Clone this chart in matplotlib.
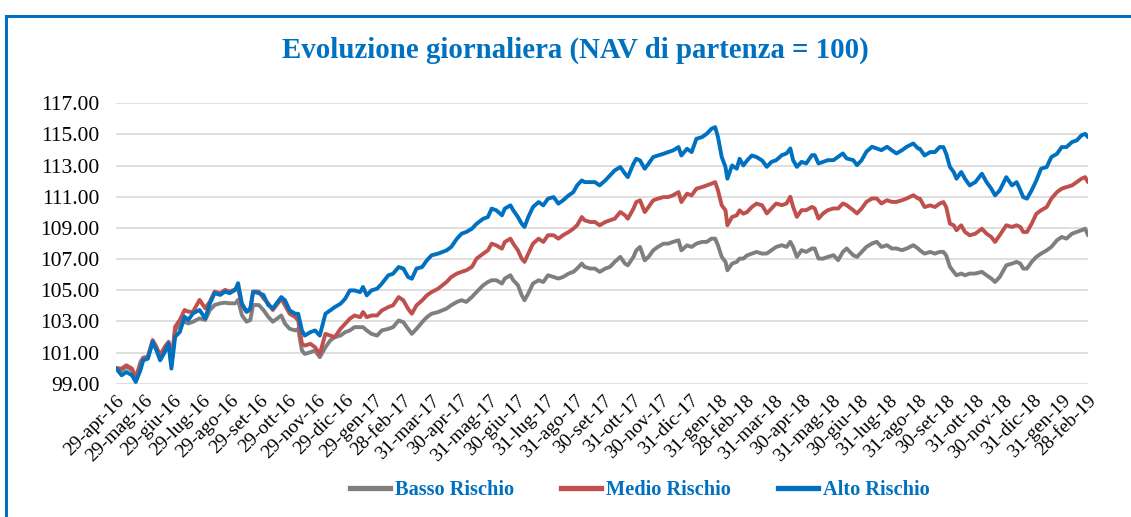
import matplotlib
matplotlib.use('Agg')
import matplotlib.pyplot as plt
import pandas as pd
from matplotlib.lines import Line2D

# ---------------- data ----------------
start_date = "2016-04-29"
# days elapsed since start_date for each sampled observation
days = [0, 6, 11, 17, 21, 26, 29, 34, 39, 43, 47, 52, 56, 59, 63, 68, 73, 77, 82, 89,
        95, 100, 105, 111, 116, 121, 127, 130, 134, 139, 143, 146, 152, 157, 162, 167,
        176, 180, 185, 191, 194, 198, 201, 207, 212, 217, 223, 228, 233, 239, 244, 249,
        254, 260, 263, 267, 272, 278, 283, 290, 295, 301, 306, 311, 315, 320, 326, 331, 336, 343,
        352, 357, 363, 368, 373, 379, 384, 391, 396, 400, 405, 411, 414, 420, 423, 428,
        432, 435, 439, 444, 450, 455, 460, 466, 471, 476, 482, 487, 491, 496, 499, 505, 510, 515,
        521, 526, 531, 537, 542, 545, 551, 554, 558, 563, 567, 572, 577, 583, 588, 593,
        599, 602, 608, 613, 618, 624, 629, 634, 638, 641, 645, 649, 651, 656, 661, 664,
        668, 672, 677, 682, 688,
        693, 698, 703, 709, 714, 718, 721, 725, 730, 735, 741, 744, 748, 753, 758, 764,
        769, 774, 778, 785, 789, 794, 799, 805, 810, 815, 821, 826, 831, 837, 842, 849, 854,
        856, 861, 867, 872, 877, 881, 884, 888, 892, 895, 900, 904, 909, 915, 922, 927,
        932, 936, 941, 948, 954, 959, 963, 966, 970, 975, 980, 985, 991, 996, 1002, 1007,
        1012, 1018, 1023, 1028, 1032, 1035]

alto = [100.0, 99.54, 99.75, 99.54, 99.11, 99.86, 100.5, 100.61, 101.69, 101.15,
        100.5, 101.04, 101.58, 99.97, 102.01, 102.33, 103.30, 103.09, 103.52, 103.73,
        103.19, 104.16, 104.81, 104.70, 104.91, 104.81, 105.02, 105.45, 104.16, 103.62,
        103.84, 104.91, 104.81, 104.70, 104.05, 103.84,
        104.56, 104.35, 103.70, 103.49, 103.49, 102.42, 102.09, 102.31, 102.42, 102.09,
        103.49, 103.70, 103.92, 104.13, 104.45, 104.99, 104.99, 104.88, 105.21, 104.67,
        104.99, 105.10, 105.42, 105.96, 106.06, 106.49, 106.39, 105.85, 105.74, 106.39,
        106.49, 106.92, 107.24, 107.35,
        107.56, 107.78, 108.31, 108.63, 108.74, 108.95, 109.27, 109.59, 109.70, 110.24,
        110.13, 109.81, 110.24, 110.45, 110.13, 109.70, 109.27, 109.06, 109.70, 110.34,
        110.66, 110.45, 110.88, 110.98, 110.56, 110.77, 111.09, 111.30, 111.73, 112.05,
        111.94, 111.94, 111.94, 111.73,
        112.05, 112.37, 112.69, 112.91, 112.48, 112.26, 113.12, 113.44, 113.33, 112.80,
        113.12, 113.55, 113.65, 113.76, 113.87, 113.97, 114.19, 113.65, 114.08, 113.87,
        114.72, 114.83, 115.04, 115.36, 115.47, 114.83, 113.55, 112.91, 112.16, 113.01,
        112.80, 113.44, 113.01, 113.33, 113.65, 113.55, 113.33,
        112.92, 113.24, 113.35, 113.67, 113.78, 114.10, 113.35, 112.92, 113.24, 113.14,
        113.67, 113.67, 113.14, 113.24, 113.35, 113.35, 113.57, 113.78, 113.46, 113.35,
        113.03, 113.35, 113.89, 114.21, 114.10, 113.99, 114.21, 113.99, 113.78, 113.99,
        114.21, 114.42, 114.10,
        114.08, 113.65, 113.87, 113.87, 114.19, 114.19, 113.76, 112.91, 112.59, 112.16,
        112.59, 112.16, 111.73, 111.94, 112.48, 111.94, 111.52, 111.09, 111.41, 112.26,
        111.73, 111.94, 111.41, 110.98, 110.88, 111.41, 112.05, 112.80, 112.91, 113.55,
        113.76, 114.19, 114.19, 114.51, 114.62, 114.94, 115.04, 114.83]

medio = [100.0, 99.97, 100.18, 99.97, 99.43, 100.18, 100.61, 100.72, 101.80, 101.37,
         100.83, 101.37, 101.69, 100.40, 102.66, 103.09, 103.73, 103.62, 103.62, 104.38,
         103.84, 104.27, 104.91, 104.81, 105.02, 104.91, 105.06, 105.13, 104.05, 103.62,
         103.73, 104.91, 104.91, 104.48, 104.16, 103.73,
         104.45, 104.03, 103.49, 103.27, 103.06, 101.56, 101.45, 101.56, 101.34, 100.91,
         102.20, 102.09, 101.99, 102.52, 102.85, 103.17, 103.38, 103.27, 103.60, 103.27,
         103.38, 103.38, 103.70, 103.92, 104.03, 104.56, 104.35, 103.81, 103.49, 104.03,
         104.35, 104.67, 104.88, 105.10,
         105.53, 105.85, 106.07, 106.18, 106.28, 106.50, 107.03, 107.35, 107.56, 107.99,
         107.88, 107.67, 108.10, 108.31, 107.99, 107.56, 107.03, 106.82, 107.35, 107.99,
         108.31, 108.10, 108.53, 108.53, 108.31, 108.53, 108.74, 108.95, 109.17, 109.70,
         109.49, 109.38, 109.38, 109.17,
         109.38, 109.49, 109.59, 110.02, 109.81, 109.59, 110.24, 110.66, 110.77, 110.02,
         110.34, 110.77, 110.88, 110.98, 110.98, 111.09, 111.30, 110.66, 111.20, 111.09,
         111.52, 111.62, 111.73, 111.84, 111.94, 111.41, 110.45, 110.13, 109.17, 109.70,
         109.81, 110.13, 109.91, 110.02, 110.34, 110.56, 110.45,
         109.93, 110.25, 110.57, 110.46, 110.57, 111.00, 110.35, 109.71, 110.14, 110.14,
         110.35, 110.25, 109.60, 109.93, 110.14, 110.25, 110.25, 110.57, 110.46, 110.14,
         109.93, 110.25, 110.67, 110.89, 110.89, 110.57, 110.78, 110.67, 110.67, 110.78,
         110.89, 111.10, 110.89,
         110.88, 110.34, 110.45, 110.34, 110.56, 110.66, 110.34, 109.27, 109.17, 108.85,
         109.17, 108.74, 108.53, 108.63, 108.95, 108.63, 108.42, 108.10, 108.53, 109.17,
         109.06, 109.17, 109.06, 108.74, 108.74, 109.27, 109.91, 110.13, 110.34, 110.88,
         111.30, 111.52, 111.62, 111.73, 111.94, 112.16, 112.26, 111.94]

basso = [100.0, 99.86, 100.08, 99.86, 99.32, 100.40, 100.68, 100.72, 101.69, 101.26,
         100.61, 101.15, 101.58, 100.18, 102.44, 102.76, 102.98, 102.87, 102.98, 103.19,
         103.09, 103.73, 104.05, 104.16, 104.20, 104.16, 104.16, 104.38, 103.41, 102.98,
         103.09, 104.05, 104.05, 103.73, 103.30, 102.98,
         103.38, 102.85, 102.52, 102.42, 102.52, 101.13, 100.91, 101.02, 101.13, 100.70,
         101.34, 101.77, 101.99, 102.09, 102.31, 102.42, 102.63, 102.63, 102.63, 102.42,
         102.20, 102.09, 102.42, 102.52, 102.63, 103.06, 102.95, 102.52, 102.20, 102.52,
         102.95, 103.27, 103.49, 103.60,
         103.82, 104.04, 104.25, 104.36, 104.25, 104.57, 104.89, 105.32, 105.53, 105.64,
         105.64, 105.43, 105.75, 105.96, 105.64, 105.32, 104.68, 104.36, 104.79, 105.43,
         105.64, 105.53, 105.96, 105.85, 105.75, 105.85, 106.07, 106.18, 106.39, 106.71,
         106.50, 106.39, 106.39, 106.18,
         106.39, 106.50, 106.82, 107.14, 106.71, 106.60, 107.14, 107.56, 107.78, 106.92,
         107.14, 107.56, 107.78, 107.99, 107.99, 108.10, 108.21, 107.56, 107.88, 107.78,
         107.99, 108.10, 108.10, 108.31, 108.31, 107.88, 107.14, 106.82, 106.28, 106.71,
         106.82, 107.03, 107.03, 107.24, 107.35, 107.46, 107.35,
         107.36, 107.57, 107.78, 107.89, 107.78, 108.11, 107.78, 107.14, 107.57, 107.46,
         107.68, 107.68, 107.03, 107.03, 107.14, 107.25, 106.93, 107.46, 107.68, 107.25,
         107.14, 107.46, 107.78, 108.00, 108.11, 107.78, 107.89, 107.68, 107.68, 107.57,
         107.68, 107.89, 107.68,
         107.56, 107.35, 107.46, 107.35, 107.46, 107.46, 107.24, 106.50, 106.18, 105.96,
         106.07, 105.96, 106.07, 106.07, 106.18, 105.96, 105.75, 105.53, 105.85, 106.60,
         106.71, 106.82, 106.71, 106.39, 106.39, 106.82, 107.14, 107.35, 107.56, 107.78,
         108.21, 108.42, 108.31, 108.63, 108.74, 108.85, 108.95, 108.53]

x_labels = ["29-apr-16", "29-mag-16", "29-giu-16", "29-lug-16", "29-ago-16", "29-set-16",
            "29-ott-16", "29-nov-16", "29-dic-16", "29-gen-17", "28-feb-17", "31-mar-17",
            "30-apr-17", "31-mag-17", "30-giu-17", "31-lug-17", "31-ago-17", "30-set-17",
            "31-ott-17", "30-nov-17", "31-dic-17", "31-gen-18", "28-feb-18", "31-mar-18",
            "30-apr-18", "31-mag-18", "30-giu-18", "31-lug-18", "31-ago-18", "30-set-18",
            "31-ott-18", "30-nov-18", "31-dic-18", "31-gen-19", "28-feb-19"]
y_ticks = [99, 101, 103, 105, 107, 109, 111, 113, 115, 117]

series_names = ["Basso Rischio", "Medio Rischio", "Alto Rischio"]
series_colors = ["#7F7F7F", "#C0504D", "#0070C0"]
title = "Evoluzione giornaliera (NAV di partenza = 100)"

# ---------------- helpers ----------------
it_months = {"gen": 1, "feb": 2, "mar": 3, "apr": 4, "mag": 5, "giu": 6,
             "lug": 7, "ago": 8, "set": 9, "ott": 10, "nov": 11, "dic": 12}


def parse_it(lbl):
    d, m, y = lbl.split("-")
    return pd.Timestamp(year=2000 + int(y), month=it_months[m], day=int(d))


tick_dates = [parse_it(l) for l in x_labels]
dates = pd.Timestamp(start_date) + pd.to_timedelta(days, unit="D")

# ---------------- figure ----------------
plt.rcParams['font.family'] = ['Liberation Serif', 'DejaVu Serif']
W, H = 1131, 517
fig = plt.figure(figsize=(W / 100, H / 100), dpi=100)
fig.patch.set_facecolor("white")

ax = fig.add_axes([116 / W, 1 - 383.7 / H, (1088 - 116) / W, (383.7 - 103.3) / H])

for vals, name, col in zip([basso, medio, alto], series_names, series_colors):
    ax.plot(dates, vals, color=col, lw=2.8, label=name,
            solid_joinstyle="round", solid_capstyle="round")

ax.set_ylim(99, 117)
ax.set_yticks(y_ticks)
ax.set_yticklabels([f"{v:.2f}" for v in y_ticks])
ax.set_xlim(tick_dates[0], tick_dates[-1])
ax.set_xticks(tick_dates)
ax.set_xticklabels(x_labels, rotation=45, ha="right", rotation_mode="anchor")

ax.grid(axis="y", color="#D9D9D9", lw=1.2)
ax.grid(axis="x", visible=False)
ax.set_axisbelow(True)
for s in ax.spines.values():
    s.set_visible(False)
ax.tick_params(axis="both", length=0)
ax.tick_params(axis="y", pad=12, labelsize=15.5)
ax.tick_params(axis="x", pad=6, labelsize=14)

fig.text(575 / W, 1 - 50 / H, title, ha="center", va="center",
         fontsize=20.8, fontweight="bold", color="#0070C0")

handles = [Line2D([0], [0], color=c, lw=3.8) for c in series_colors]
fig.legend(handles, series_names, loc="center", bbox_to_anchor=(640 / W, 1 - 490 / H),
           ncol=3, frameon=False, prop=dict(weight="bold", size=14.7),
           labelcolor="#0070C0", handlelength=1.95, handletextpad=0.25,
           columnspacing=2.3)

# outer frame (left and top edges visible)
fig.add_artist(Line2D([6 / W, 6 / W], [0, 1 - 16 / H], transform=fig.transFigure,
                      color="#0070C0", lw=2.2))
fig.add_artist(Line2D([6 / W, 1], [1 - 16 / H, 1 - 16 / H], transform=fig.transFigure,
                      color="#0070C0", lw=2.2))

fig.savefig("out.png", dpi=100, facecolor="white")
